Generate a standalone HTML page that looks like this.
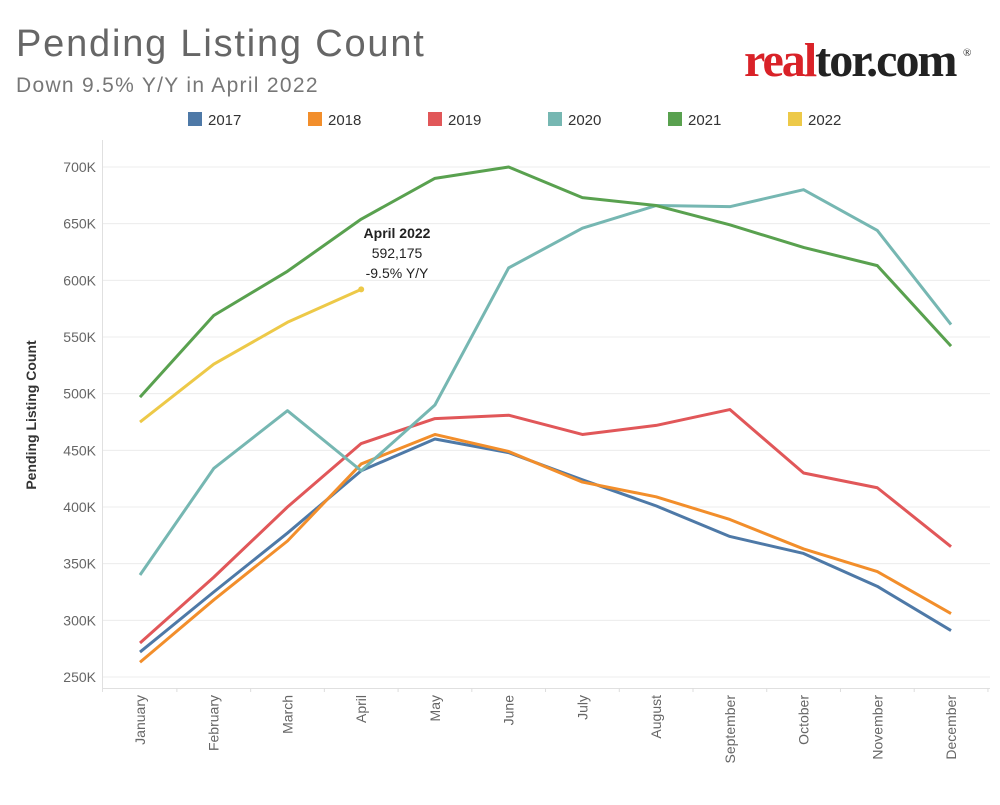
<!DOCTYPE html>
<html><head><meta charset="utf-8"><style>
body{margin:0;background:#fff;width:1000px;height:800px;overflow:hidden;font-family:"Liberation Sans",sans-serif}
</style></head><body>
<svg id="chart" width="1000" height="800">
<text x="16" y="56" font-size="38" fill="#666" letter-spacing="1.8">Pending Listing Count</text>
<text x="16" y="92" font-size="21" fill="#777" letter-spacing="1.3">Down 9.5% Y/Y in April 2022</text>
<g font-family="Liberation Serif,serif" font-size="48" font-weight="bold">
<text x="744" y="76" letter-spacing="-1.5" textLength="212"><tspan fill="#d92228">real</tspan><tspan fill="#222">tor.com</tspan></text>
<text x="963" y="56" font-size="11" font-weight="normal" fill="#222">®</text>
</g>
<g id="legend"></g>
<g id="grid"></g>
<g id="series"></g>
<text transform="translate(36,415) rotate(-90)" text-anchor="middle" font-size="14" font-weight="bold" fill="#333">Pending Listing Count</text>
<g text-anchor="middle" font-size="14" fill="#222">
<text x="397" y="238" font-weight="bold">April 2022</text>
<text x="397" y="258">592,175</text>
<text x="397" y="278">-9.5% Y/Y</text>
</g>
</svg>
<script>
const months=["January","February","March","April","May","June","July","August","September","October","November","December"];
const yTicks=[250,300,350,400,450,500,550,600,650,700];
const years=["2017","2018","2019","2020","2021","2022"];
const colors=["#4e79a7","#f28e2b","#e15759","#76b7b2","#59a14f","#edc948"];
const s2017=[272,325,377,432,460,448,424,401,374,359,330,291];
const s2018=[263,318,370,438,464,449,422,409,389,363,343,306];
const s2019=[280,338,400,456,478,481,464,472,486,430,417,365];
const s2020=[340,434,485,432,490,611,646,666,665,680,644,561];
const s2021=[497,569,608,654,690,700,673,666,649,629,613,542];
const s2022=[475,526,563,592];
const series=[s2017,s2018,s2019,s2020,s2021,s2022];
const NS="http://www.w3.org/2000/svg";
const x=i=>140+i*73.73;
const y=v=>677-(v-250)*1.1333;
function mk(t,a,p){const e=document.createElementNS(NS,t);for(const k in a)e.setAttribute(k,a[k]);p.appendChild(e);return e;}
const grid=document.getElementById('grid'),ser=document.getElementById('series'),leg=document.getElementById('legend');
yTicks.forEach(v=>{
 const l=mk('line',{x1:103,x2:990,y1:y(v),y2:y(v),stroke:'#ececec','stroke-width':1},grid);
 
 
 const t=mk('text',{x:96,y:y(v)+5,'text-anchor':'end','font-size':14,fill:'#666'},grid);
 t.textContent=v+'K';
 
 
});
const ax=mk('line',{x1:102.5,x2:102.5,y1:140,y2:692,stroke:'#e0e0e0'},grid);


const bx=mk('line',{x1:102,x2:990,y1:688.5,y2:688.5,stroke:'#e0e0e0'},grid);


months.forEach((m,i)=>{
 const tk=mk('line',{x1:x(i)+36.9,x2:x(i)+36.9,y1:688,y2:692,stroke:'#ddd'},grid);
 
 
 const t=mk('text',{transform:`translate(${x(i)+5},695) rotate(-90)`,'text-anchor':'end','font-size':14,fill:'#666'},grid);
 t.textContent=m;
 
 
});
series.forEach((s,k)=>{
 const p=mk('polyline',{points:s.map((v,i)=>x(i)+','+y(v)).join(' '),fill:'none',stroke:colors[k],'stroke-width':3,'stroke-linejoin':'round'},ser);
 
 
 const lx=188+k*120;
 const r=mk('rect',{x:lx,y:112,width:14,height:14,fill:colors[k]},leg);
 
 
 const t=mk('text',{x:lx+20,y:125,'font-size':15,fill:'#333'},leg);
 t.textContent=years[k];
 
 
});
const d=mk('circle',{cx:x(3),cy:y(s2022[3]),r:3,fill:colors[5]},ser);


</script>
</body></html>
